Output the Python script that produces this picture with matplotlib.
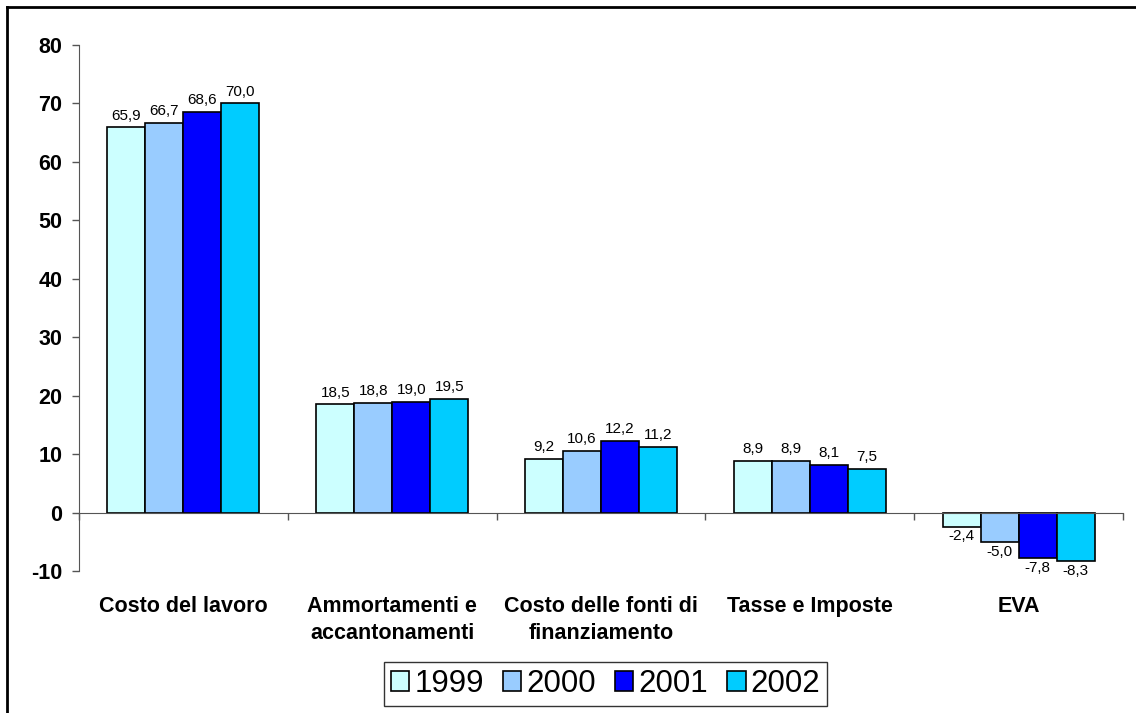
import numpy as np
import matplotlib
matplotlib.use("Agg")
from matplotlib import pyplot as plt
from matplotlib.lines import Line2D

plt.rcParams['font.family'] = ['Liberation Sans', 'DejaVu Sans']
plt.rcParams['axes.unicode_minus'] = False

# dati
categorie = ['Costo del lavoro', 'Ammortamenti e\naccantonamenti',
             'Costo delle fonti di\nfinanziamento', 'Tasse e Imposte', 'EVA']
anni = ['1999', '2000', '2001', '2002']
v1999 = [65.9, 18.5, 9.2, 8.9, -2.4]
v2000 = [66.7, 18.8, 10.6, 8.9, -5.0]
v2001 = [68.6, 19.0, 12.2, 8.1, -7.8]
v2002 = [70.0, 19.5, 11.2, 7.5, -8.3]
colori = ['#CCFFFF', '#99CCFF', '#0000FF', '#00CCFF']

serie = [v1999, v2000, v2001, v2002]

fig = plt.figure(figsize=(11.36, 7.13), dpi=100)
ax = fig.add_axes([79/1136, 1 - 571/713, (1123 - 79)/1136, (571 - 45)/713])

x = np.arange(len(categorie))
w = 0.182
for i, (vals, col, anno) in enumerate(zip(serie, colori, anni)):
    pos = x + (i - 1.5) * w
    ax.bar(pos, vals, w, color=col, edgecolor='black', linewidth=1.2, label=anno)
    for p, v in zip(pos, vals):
        testo = f'{v:.1f}'.replace('.', ',')
        if v >= 0:
            ax.annotate(testo, (p, v), xytext=(0, 3.5), textcoords='offset points',
                        ha='center', va='bottom', fontsize=11)
        else:
            ax.annotate(testo, (p, v), xytext=(0, -2), textcoords='offset points',
                        ha='center', va='top', fontsize=11)

ax.set_xlim(-0.5, len(categorie) - 0.5)
ax.set_ylim(-10, 80)
ax.set_yticks(range(-10, 81, 10))
for t in ax.get_yticklabels():
    t.set_fontweight('bold')
    t.set_fontsize(15.5)
ax.tick_params(axis='y', direction='out', length=5, width=1, color='#555555', pad=7)

ax.spines['top'].set_visible(False)
ax.spines['right'].set_visible(False)
ax.spines['left'].set_color('#555555')
ax.spines['bottom'].set_color('#555555')
ax.spines['bottom'].set_position(('data', 0))

ax.set_xticks(np.arange(-0.5, len(categorie), 1.0))
ax.set_xticklabels([])
ax.tick_params(axis='x', direction='out', length=5, width=1, color='#555555')

for xi, cat in zip(x, categorie):
    ax.text(xi, -14.3, cat, ha='center', va='top', fontsize=15.5, fontweight='bold',
            linespacing=1.35)

fig.legend(loc='center', bbox_to_anchor=(0.533, 0.041), ncol=4, fontsize=22.5,
           fancybox=False, edgecolor='#333333', framealpha=1, borderpad=0.22,
           handlelength=0.6, handleheight=0.6, columnspacing=0.6,
           handletextpad=0.16, borderaxespad=0)

# cornice
fig.add_artist(Line2D([7/1136, 1], [1 - 7/713, 1 - 7/713], color='black', lw=2))
fig.add_artist(Line2D([7/1136, 7/1136], [0, 1 - 7/713], color='black', lw=2))

fig.savefig('out.png', dpi=100)
